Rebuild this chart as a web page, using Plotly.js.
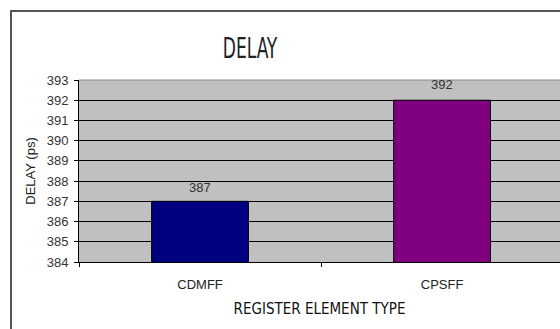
<!DOCTYPE html>
<html>
<head>
<meta charset="utf-8">
<script src="https://cdn.plot.ly/plotly-3.0.1.min.js"></script>
<style>
  html, body { margin: 0; padding: 0; background: #fff; overflow: hidden; }
  #wrap { position: relative; width: 560px; height: 329px; }
  #chart { position: absolute; left: 0; top: 0; width: 560px; height: 329px; }
  #frame {
    position: absolute; left: 10px; top: 10px; width: 600px; height: 400px;
    border-left: 2px solid #555; border-top: 2px solid #555;
    pointer-events: none;
  }
</style>
</head>
<body>
<div id="wrap">
  <div id="chart"></div>
  <div id="frame"></div>
</div>
<script>
// Register element types and their measured delay (ps)
const categories = ['CDMFF', 'CPSFF'];
const delays = [387, 392];
const barColors = ['#000080', '#800080'];
const labelShifts = [14, 16];

const narrow = '"Liberation Sans Narrow", "Arial Narrow", "DejaVu Sans Condensed", sans-serif';
const sans = '"Liberation Sans", Arial, sans-serif';

const trace = {
  type: 'bar',
  x: categories,
  y: delays,
  width: 0.4,
  marker: { color: barColors, line: { color: '#000', width: 1 } },
  hoverinfo: 'x+y'
};

// value labels above each bar
const annotations = categories.map((c, i) => ({
  x: c, y: delays[i], xref: 'x', yref: 'y',
  text: String(delays[i]), showarrow: false,
  yanchor: 'middle', yshift: labelShifts[i],
  font: { family: sans, size: 13, color: '#333' }
}));

const layout = {
  width: 560, height: 329,
  margin: { l: 79, r: 0, t: 80, b: 67 },
  paper_bgcolor: '#fff',
  plot_bgcolor: '#c0c0c0',
  showlegend: false,
  title: {
    text: 'DELAY',
    xref: 'container', yref: 'container',
    x: 250 / 560, y: 1 - 48 / 329, xanchor: 'center', yanchor: 'middle',
    font: { family: narrow, size: 19, color: '#222' }
  },
  xaxis: {
    type: 'category',
    range: [-0.5, 1.487],
    tickson: 'boundaries',
    ticks: 'outside', ticklen: 4, tickcolor: '#000', tickwidth: 1,
    ticklabelstandoff: 10,
    showline: true, linecolor: '#000', linewidth: 1,
    showgrid: false, zeroline: false,
    tickfont: { family: sans, size: 13, color: '#222' },
    title: { text: 'REGISTER ELEMENT TYPE', standoff: 12,
             font: { family: narrow, size: 15, color: '#111' } }
  },
  yaxis: {
    range: [384, 393],
    dtick: 1, tick0: 384,
    ticks: 'outside', ticklen: 4, tickcolor: '#000', tickwidth: 1,
    ticklabelstandoff: 3,
    showline: true, linecolor: '#000', linewidth: 1,
    showgrid: true, gridcolor: '#000', gridwidth: 1,
    zeroline: false,
    tickfont: { family: sans, size: 13, color: '#333' },
    title: { text: 'DELAY (ps)', standoff: 8,
             font: { family: sans, size: 13, color: '#222' } }
  },
  shapes: [{
    type: 'line', xref: 'paper', yref: 'paper',
    x0: 0, x1: 1, y0: 1, y1: 1,
    line: { color: '#888', width: 1 }, layer: 'above'
  }],
  annotations: annotations
};

Plotly.newPlot('chart', [trace], layout, { displayModeBar: false, staticPlot: true }).then(() => {
  // tall, condensed look for the chart heading
  const t = document.querySelector('#chart .gtitle');
  if (t) {
    const b = t.getBBox();
    const cx = b.x + b.width / 2, cy = b.y + b.height / 2;
    t.setAttribute('transform', `translate(${cx},${cy}) scale(1,1.5) translate(${-cx},${-cy})`);
  }
});
</script>
</body>
</html>
